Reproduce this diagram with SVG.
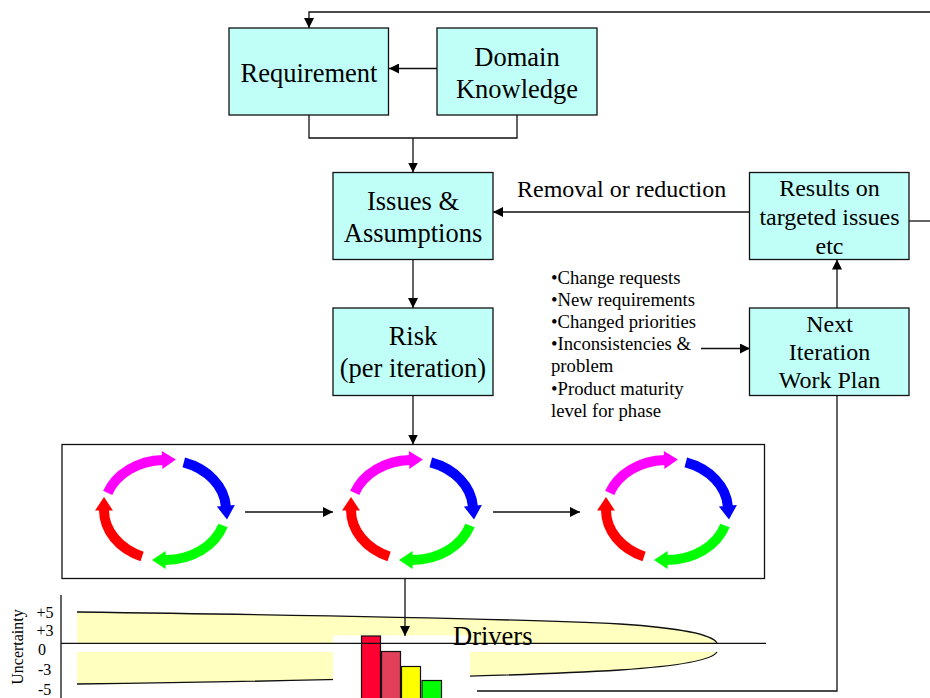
<svg xmlns="http://www.w3.org/2000/svg" width="930" height="698" viewBox="0 0 930 698">
  <defs>
    <style>
      .box{fill:#C0FFF8;stroke:#111;stroke-width:1.3}
      .t{font-family:"Liberation Serif","Times New Roman",serif;fill:#000}
      .big{font-size:26.5px;text-anchor:middle}
      .mid{font-size:24px;text-anchor:middle}
      .lst{font-size:18.7px}
      .ax{font-size:16px}
      .ln{fill:none;stroke:#111;stroke-width:1.3}
      .arc{fill:none;stroke-width:10}
    </style>
    <marker id="ah" markerWidth="10" markerHeight="10" refX="10" refY="5" orient="auto" markerUnits="userSpaceOnUse">
      <path d="M0,0 L10,5 L0,10 Z" fill="#000"/>
    </marker>
    <!-- one four-colour iteration cycle, centred on the origin -->
    <g id="cycle">
      <path class="arc" stroke="#FF00FF" d="M-57.3,-17.1 A61,50 0 0 1 -2.1,-50"/>
      <polygon fill="#FF00FF" points="10.9,-50.4 -2.6,-41 -3.2,-59"/>
      <path class="arc" stroke="#0000FF" d="M18.8,-47.6 A61,50 0 0 1 60.9,-3.5"/>
      <polygon fill="#0000FF" points="62,9.4 69.9,-5 51.9,-3.4"/>
      <path class="arc" stroke="#00FF00" d="M58,15.5 A61,50 0 0 1 0,50"/>
      <polygon fill="#00FF00" points="-13,50 0.6,41 0.6,59"/>
      <path class="arc" stroke="#FF0000" d="M-22.9,46.4 A61,50 0 0 1 -61,0"/>
      <polygon fill="#FF0000" points="-61,-13 -70,0.6 -52,0.6"/>
    </g>
  </defs>

  <rect width="930" height="698" fill="#fff"/>

  <!-- uncertainty chart -->
  <g id="chart">
    <path d="M77,612 C300,615 520,619 620,624 C680,628 712,634 717,643 L77,643 Z" fill="#FFFFBF"/>
    <path d="M77,652 L717,652 C712,660 680,666 620,670 C520,676 300,681 77,684 Z" fill="#FFFFBF"/>
    <path class="ln" d="M77,612 C300,615 520,619 620,624 C680,628 712,634 717,643"/>
    <path class="ln" d="M717,652 C712,660 680,666 620,670 C520,676 300,681 77,684"/>
    <rect x="333" y="635.5" width="137" height="63" fill="#fff"/>
    <line class="ln" x1="61" y1="595" x2="61" y2="698"/>
    <g stroke="#111" stroke-width="1.2">
      <rect x="361.5" y="636" width="19" height="70" fill="#FF0033"/>
      <rect x="381.5" y="651.5" width="19" height="60" fill="#E2405A"/>
      <rect x="401.5" y="666.5" width="19" height="40" fill="#FFFF00"/>
      <rect x="422" y="680.5" width="19.5" height="30" fill="#00FF00"/>
    </g>
    <line class="ln" x1="61" y1="643.3" x2="766" y2="643.3"/>
    <text class="t" x="453" y="645" font-size="26.5">Drivers</text>
    <text class="t ax" transform="translate(23,647) rotate(-90)" text-anchor="middle">Uncertainty</text>
    <g class="t ax">
      <text x="36.5" y="617.5">+5</text>
      <text x="36.5" y="635.5">+3</text>
      <text x="38" y="654.5">0</text>
      <text x="38" y="674.5">-3</text>
      <text x="38" y="694.5">-5</text>
    </g>
  </g>

  <!-- connectors -->
  <g id="connectors" class="ln">
    <path d="M930,12 H309 V28" marker-end="url(#ah)"/>
    <path d="M437,68.5 H389" marker-end="url(#ah)"/>
    <path d="M309,115 V138 H517 V115"/>
    <path d="M413,138 V172.5" marker-end="url(#ah)"/>
    <path d="M750,212 H493" marker-end="url(#ah)"/>
    <path d="M909,221 H930"/>
    <path d="M413,259.5 V308" marker-end="url(#ah)"/>
    <path d="M413,396 V444.5" marker-end="url(#ah)"/>
    <path d="M245,512 H333" marker-end="url(#ah)"/>
    <path d="M493,512 H580" marker-end="url(#ah)"/>
    <path d="M701,348.5 H750" marker-end="url(#ah)"/>
    <path d="M837,308 V259.5" marker-end="url(#ah)"/>
    <path d="M837,396 V691 H477"/>
    <path d="M405,579 V636" marker-end="url(#ah)"/>
  </g>

  <g id="requirement">
    <rect class="box" x="229" y="28" width="159.5" height="87"/>
    <text class="t big" x="309" y="82">Requirement</text>
  </g>

  <g id="domain-knowledge">
    <rect class="box" x="437" y="28" width="160" height="87"/>
    <text class="t big" x="517" y="66">Domain</text>
    <text class="t big" x="517" y="98">Knowledge</text>
  </g>

  <g id="issues-assumptions">
    <rect class="box" x="333" y="172.5" width="160" height="87"/>
    <text class="t big" x="413" y="210">Issues &amp;</text>
    <text class="t big" x="413" y="242">Assumptions</text>
  </g>

  <g id="removal-label">
    <text class="t" x="517" y="197" font-size="24px">Removal or reduction</text>
  </g>

  <g id="results">
    <rect class="box" x="749.5" y="172.5" width="159.5" height="87"/>
    <text class="t mid" x="829.5" y="196">Results on</text>
    <text class="t mid" x="829.5" y="225">targeted issues</text>
    <text class="t mid" x="829.5" y="254">etc</text>
  </g>

  <g id="risk">
    <rect class="box" x="333" y="308" width="160" height="87.5"/>
    <text class="t big" x="413" y="345">Risk</text>
    <text class="t big" x="413" y="377">(per iteration)</text>
  </g>

  <g id="change-drivers">
    <text class="t lst" x="551" y="283.5">•Change requests</text>
    <text class="t lst" x="551" y="305.5">•New requirements</text>
    <text class="t lst" x="551" y="327.5">•Changed priorities</text>
    <text class="t lst" x="551" y="349.5">•Inconsistencies &amp;</text>
    <text class="t lst" x="551" y="372">problem</text>
    <text class="t lst" x="551" y="394.5">•Product maturity</text>
    <text class="t lst" x="551" y="417">level for phase</text>
  </g>

  <g id="next-iteration">
    <rect class="box" x="749.5" y="308" width="159.5" height="87.5"/>
    <text class="t mid" x="829.5" y="332">Next</text>
    <text class="t mid" x="829.5" y="360">Iteration</text>
    <text class="t mid" x="829.5" y="388">Work Plan</text>
  </g>

  <g id="iterations">
    <rect x="62" y="444.5" width="702.5" height="134" fill="#fff" stroke="#111" stroke-width="1.3"/>
    <use href="#cycle" x="165" y="510"/>
    <use href="#cycle" x="412" y="510"/>
    <use href="#cycle" x="667" y="510"/>
  </g>

  <!-- re-draw the two arrows across the iteration frame on top of it -->
  <g class="ln">
    <path d="M245,512 H333" marker-end="url(#ah)"/>
    <path d="M493,512 H580" marker-end="url(#ah)"/>
  </g>
</svg>
